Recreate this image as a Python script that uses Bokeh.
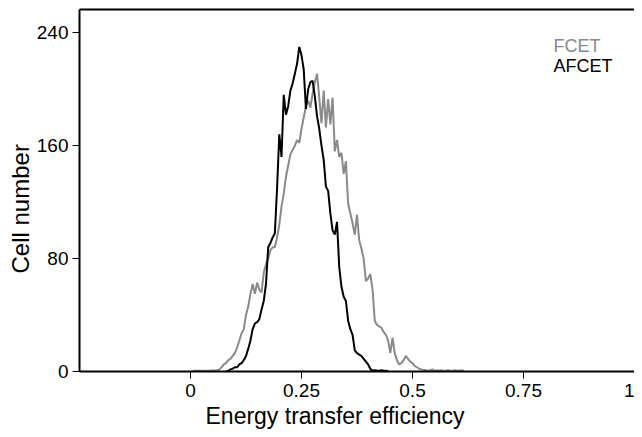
from bokeh.plotting import figure
from bokeh.models import Range1d, FixedTicker, LinearAxis, Label, Title
from bokeh.embed import file_html
from bokeh.resources import INLINE

# ---- data ----
bin_width = 0.005
fcet_start = 0.005
fcet_counts = [0.5, 0.5, 0.5, 0.5, 0.5, 0.5, 0.5, 0.5, 0.5, 1, 0.5,
               1, 1.5, 3, 5, 6, 8, 9, 11, 13, 17, 22, 27, 30, 40, 46, 55, 62, 55, 63, 58,
               56, 70, 76, 80, 86, 88, 88, 95, 104, 117, 126, 138, 146, 154, 157, 160, 164,
               162, 172, 180, 188, 192, 187, 197, 205, 211, 194, 176, 199, 173, 193, 175,
               194, 156, 164, 152, 155, 140, 149, 119, 112, 105, 97, 111, 93, 87, 80, 64,
               66, 69, 58, 36, 33, 32, 31, 28, 26, 22, 13, 24, 13, 8, 5, 6, 8, 11, 9, 7,
               6, 4, 3, 2, 1.5, 1, 1, 0.5, 1, 1.5, 0.5, 1, 0.5, 1, 0.5, 0.5, 1, 0.5, 0.5,
               1, 0.5, 0.5, 1, 0.5]
afcet_start = 0.080
afcet_counts = [0, 0.5, 1.5, 2, 3, 3, 5, 6, 8, 11, 16, 22, 30, 34, 35, 37, 44, 50, 62, 88,
                91, 95, 98, 130, 168, 152, 196, 182, 188, 199, 204, 211, 218, 230, 224, 214,
                186, 200, 205, 206, 195, 181, 172, 160, 150, 131, 128, 112, 100, 97, 106, 74,
                60, 53, 50, 36, 30, 26, 15, 13, 12, 11, 9, 7, 5, 2, 0.5, 1, 0.5, 0.5, 1,
                0.5, 0.5, 0]
fcet_x = [round(fcet_start + bin_width * i, 3) for i in range(len(fcet_counts))]
afcet_x = [round(afcet_start + bin_width * i, 3) for i in range(len(afcet_counts))]

x_ticks = [0, 0.25, 0.5, 0.75, 1]
y_ticks = [0, 80, 160, 240]
series_names = ["FCET", "AFCET"]
series_colors = ["#8a8a8a", "#000000"]

FONT = "Liberation Sans"

p = figure(width=634, height=429, output_backend="svg", toolbar_location=None,
           x_range=Range1d(-0.25, 1.0), y_range=Range1d(0, 256.5),
           min_border_left=79, min_border_right=0, min_border_top=9,
           min_border_bottom=58)
p.grid.visible = False
p.outline_line_color = None
p.background_fill_color = "white"

p.line(fcet_x, fcet_counts, line_color=series_colors[0], line_width=2)
p.line(afcet_x, afcet_counts, line_color=series_colors[1], line_width=2)

for ax in (p.xaxis[0], p.yaxis[0]):
    ax.axis_line_width = 2
    ax.axis_line_color = "black"
    ax.major_tick_line_color = "black"
    ax.major_tick_line_width = 1
    ax.major_tick_out = 7
    ax.major_tick_in = 0
    ax.minor_tick_line_color = None
    ax.major_label_text_font = FONT
    ax.major_label_text_font_size = "19px"
    ax.major_label_text_color = "black"

p.xaxis[0].ticker = FixedTicker(ticks=x_ticks)
p.xaxis[0].major_label_standoff = 5
p.xaxis[0].major_label_overrides = {0: "0", 0.25: "0.25", 0.5: "0.5", 0.75: "0.75", 1: "1"}
p.yaxis[0].ticker = FixedTicker(ticks=y_ticks)
p.yaxis[0].major_label_standoff = 4

top_axis = LinearAxis(ticker=FixedTicker(ticks=[]), major_label_text_font_size="0px",
                      axis_line_width=2, axis_line_color="black",
                      major_tick_line_color=None, minor_tick_line_color=None,
                      major_label_standoff=0)
p.add_layout(top_axis, "above")

# axis titles
p.add_layout(Title(text="Energy transfer efficiency", align="left", offset=126,
                   text_font=FONT, text_font_size="23px", text_font_style="normal",
                   text_color="black", standoff=2), "below")
p.add_layout(Title(text="Cell number", align="left", offset=98,
                   text_font=FONT, text_font_size="24px", text_font_style="normal",
                   text_color="black", standoff=0), "left")

# legend texts
legend_y = [230.3, 216.8]
for name, col, ly in zip(series_names, series_colors, legend_y):
    p.add_layout(Label(x=0.8176, y=ly, text=name, text_font=FONT, text_font_size="18px",
                       text_color=col, text_align="left", text_baseline="alphabetic"))

open("out.html", "w").write(file_html(p, INLINE))
